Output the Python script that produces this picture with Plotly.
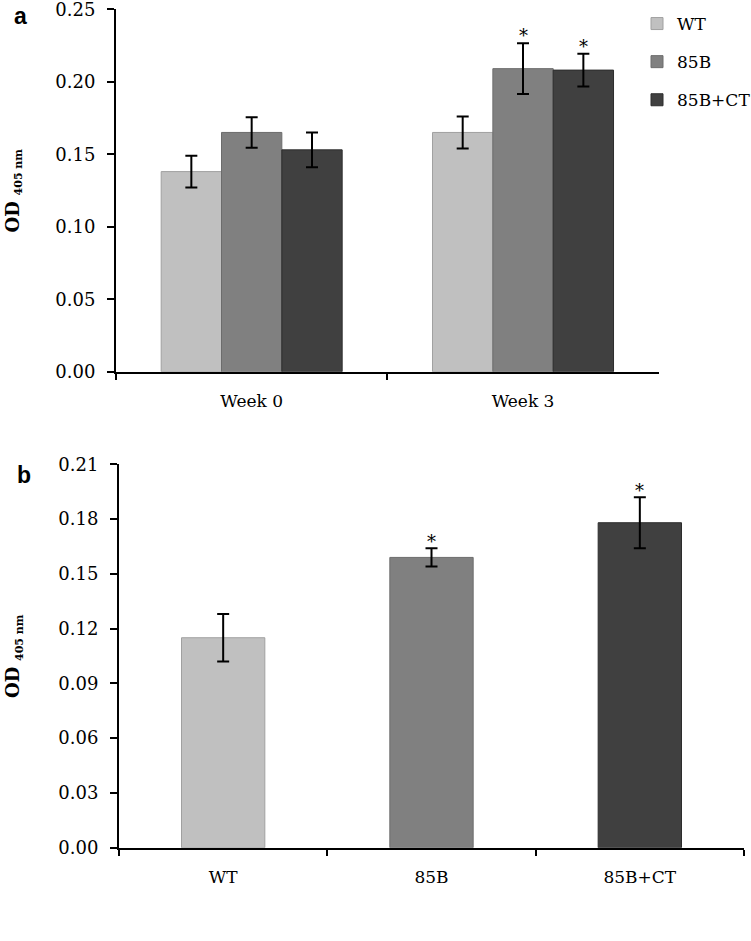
import plotly.graph_objects as go

# panel a: OD over time, per strain
weeks = ["Week 0", "Week 3"]
wt_a = [0.138, 0.165]
wt_a_err = [0.011, 0.011]
b85_a = [0.165, 0.209]
b85_a_err = [0.0105, 0.0175]
ct_a = [0.153, 0.208]
ct_a_err = [0.012, 0.0113]

# panel b: single time point
strains = ["WT", "85B", "85B+CT"]
od_b = [0.115, 0.159, 0.178]
od_b_err = [0.013, 0.005, 0.014]

# significance stars
stars_a = [("Week 3", 1), ("Week 3", 2)]  # (week, series index)
stars_b = ["85B", "85B+CT"]

fills = ["#c0c0c0", "#808080", "#404040"]
edges = ["#a0a0a0", "#6c6c6c", "#2c2c2c"]

SERIF = "DejaVu Serif"
W, H = 751, 941
GAP = 0.333

fig = go.Figure()

series_a = [("WT", wt_a, wt_a_err), ("85B", b85_a, b85_a_err), ("85B+CT", ct_a, ct_a_err)]
for i, (name, vals, errs) in enumerate(series_a):
    fig.add_trace(go.Bar(
        x=weeks, y=vals, name=name, legendgroup=name,
        marker=dict(color=fills[i], line=dict(color=edges[i], width=1)),
        error_y=dict(type="data", array=errs, color="black", thickness=2, width=6),
        xaxis="x", yaxis="y",
    ))

fig.add_trace(go.Bar(
    x=strains, y=od_b, showlegend=False, width=0.4,
    marker=dict(color=fills, line=dict(color=edges, width=1)),
    error_y=dict(type="data", array=od_b_err, color="black", thickness=2, width=6),
    xaxis="x2", yaxis="y2",
))

# domains (paper coords, margins are zero)
xa = [116 / W, 658.7 / W]
ya = [(H - 371.7) / H, (H - 9.2) / H]
xb = [119 / W, 744 / W]
yb = [(H - 847.7) / H, (H - 464.3) / H]

axis_common = dict(
    showline=True, linecolor="black", linewidth=2,
    ticks="outside", tickcolor="black", tickwidth=1.5,
    showgrid=False, zeroline=False, automargin=False,
)
xcommon = dict(tickson="boundaries", ticklen=6, ticklabelstandoff=13,
               tickfont=dict(family=SERIF, size=17, color="black"), **axis_common)
ycommon = dict(tickformat=".2f", ticklen=7, ticklabelstandoff=8,
               ticklabeloverflow="allow",
               tickfont=dict(family=SERIF, size=18, color="black"), **axis_common)

fig.update_layout(
    width=W, height=H,
    margin=dict(l=0, r=0, t=0, b=0, pad=0, autoexpand=False),
    paper_bgcolor="white", plot_bgcolor="white",
    barmode="group", bargap=GAP, bargroupgap=0,
    xaxis=dict(domain=xa, anchor="y", **xcommon),
    yaxis=dict(domain=ya, anchor="x", range=[0, 0.25], dtick=0.05, **ycommon),
    xaxis2=dict(domain=xb, anchor="y2", **xcommon),
    yaxis2=dict(domain=yb, anchor="x2", range=[0, 0.21], dtick=0.03, **ycommon),
    legend=dict(
        x=637 / W, y=(H - 6) / H, xanchor="left", yanchor="top",
        font=dict(family=SERIF, size=17, color="black"),
        tracegroupgap=13, bgcolor="rgba(0,0,0,0)",
    ),
    showlegend=True,
)

bar_px = (xa[1] - xa[0]) * W / len(weeks) * (1 - GAP) / 3
for wk, k in stars_a:
    vals, errs = series_a[k][1], series_a[k][2]
    j = weeks.index(wk)
    fig.add_annotation(x=wk, y=vals[j] + errs[j], xref="x", yref="y",
                       text="*", showarrow=False, yanchor="bottom", yshift=-5,
                       xshift=(k - 1) * bar_px,
                       font=dict(family=SERIF, size=18, color="black"))
for s in stars_b:
    j = strains.index(s)
    fig.add_annotation(x=s, y=od_b[j] + od_b_err[j], xref="x2", yref="y2",
                       text="*", showarrow=False, yanchor="bottom", yshift=-6,
                       font=dict(family=SERIF, size=18, color="black"))

# y titles
ytitle = "<b>OD</b> <sub><b><span style='font-size:11px'>405 nm</span></b></sub>"
for yd in (ya, yb):
    fig.add_annotation(x=14 / W, y=(yd[0] + yd[1]) / 2, xref="paper", yref="paper",
                       xanchor="center", yanchor="middle",
                       text=ytitle, textangle=-90, showarrow=False,
                       font=dict(family=SERIF, size=18, color="black"))

# panel letters
for letter, px, py in (("a", 20, 16), ("b", 24, 475)):
    fig.add_annotation(x=px / W, y=(H - py) / H, xref="paper", yref="paper",
                       xanchor="center", yanchor="middle", text=f"<b>{letter}</b>",
                       showarrow=False, font=dict(family="Liberation Sans", size=23, color="black"))

# pin the plot to the top-left corner of the page (no body margin)
pin = ("var gd=document.getElementById('{plot_id}');"
       "document.body.style.margin='0';"
       "gd.style.position='absolute';gd.style.left='0px';gd.style.top='0px';")
fig.write_html("out.html", post_script=pin, config={"displayModeBar": False})
